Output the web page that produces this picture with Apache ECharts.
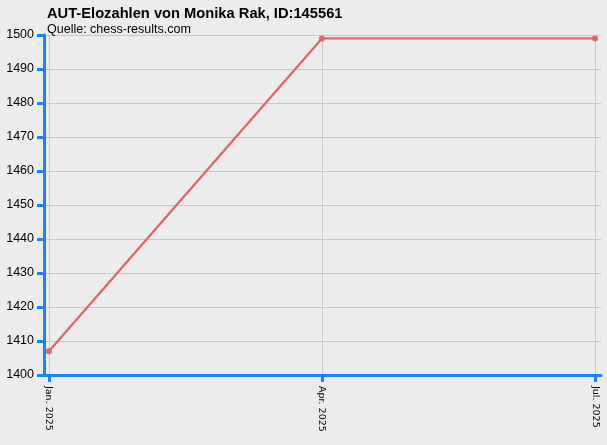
<!DOCTYPE html>
<html>
<head>
<meta charset="utf-8">
<script src="https://cdn.jsdelivr.net/npm/echarts@6/dist/echarts.min.js"></script>
<style>
  html, body { margin: 0; padding: 0; background: #ececec; }
  #chart { width: 607px; height: 445px; }
</style>
</head>
<body>
<div id="chart"></div>
<script>
// rating periods and values
var periods = ['Jan. 2025', 'Apr. 2025', 'Jul. 2025'];
var ratings = [1407, 1499, 1499];
var yTicks = [1400, 1410, 1420, 1430, 1440, 1450, 1460, 1470, 1480, 1490, 1500];

var points = ratings.map(function (v, i) { return [i, v]; });
var xPos = periods.map(function (p, i) { return i; });

var chart = echarts.init(document.getElementById('chart'));
chart.setOption({
  backgroundColor: '#ececec',
  animation: false,
  title: {
    text: 'AUT-Elozahlen von Monika Rak, ID:145561',
    subtext: 'Quelle: chess-results.com',
    left: 42,
    top: 1,
    itemGap: 2,
    textStyle: { fontFamily: 'Liberation Sans', fontSize: 14.7, fontWeight: 'bold', color: '#000' },
    subtextStyle: { fontFamily: 'Liberation Sans', fontSize: 12.5, color: '#000' }
  },
  grid: { left: 44, right: 6, top: 35, bottom: 70, containLabel: false },
  xAxis: {
    type: 'value',
    min: -0.018,
    max: 2.022,
    axisLine: { show: true, onZero: false, lineStyle: { color: '#1a85ff', width: 3 } },
    axisTick: { show: true, inside: false, length: 7, lineStyle: { color: '#1a85ff', width: 3 }, customValues: xPos },
    axisLabel: {
      customValues: xPos,
      rotate: -90,
      margin: 11,
      fontFamily: 'DejaVu Sans',
      fontSize: 9.5,
      color: '#000',
      formatter: function (v) { return periods[Math.round(v)]; }
    },
    splitLine: { show: true, lineStyle: { color: '#c8c8c8', width: 1 } }
  },
  yAxis: {
    type: 'value',
    min: yTicks[0],
    max: yTicks[yTicks.length - 1],
    interval: 10,
    axisLine: { show: true, onZero: false, lineStyle: { color: '#1a85ff', width: 3 } },
    axisTick: { show: true, inside: false, length: 7, lineStyle: { color: '#1a85ff', width: 3 } },
    axisLabel: {
      margin: 10,
      fontFamily: 'Liberation Sans',
      fontSize: 12.5,
      color: '#000',
      formatter: function (v) { return String(v); }
    },
    splitLine: { show: true, lineStyle: { color: '#c8c8c8', width: 1 } }
  },
  series: [{
    type: 'line',
    data: points,
    symbol: 'circle',
    symbolSize: 6,
    lineStyle: { color: '#e06666', width: 2.3 },
    itemStyle: { color: '#e06666' }
  }]
});
</script>
</body>
</html>
